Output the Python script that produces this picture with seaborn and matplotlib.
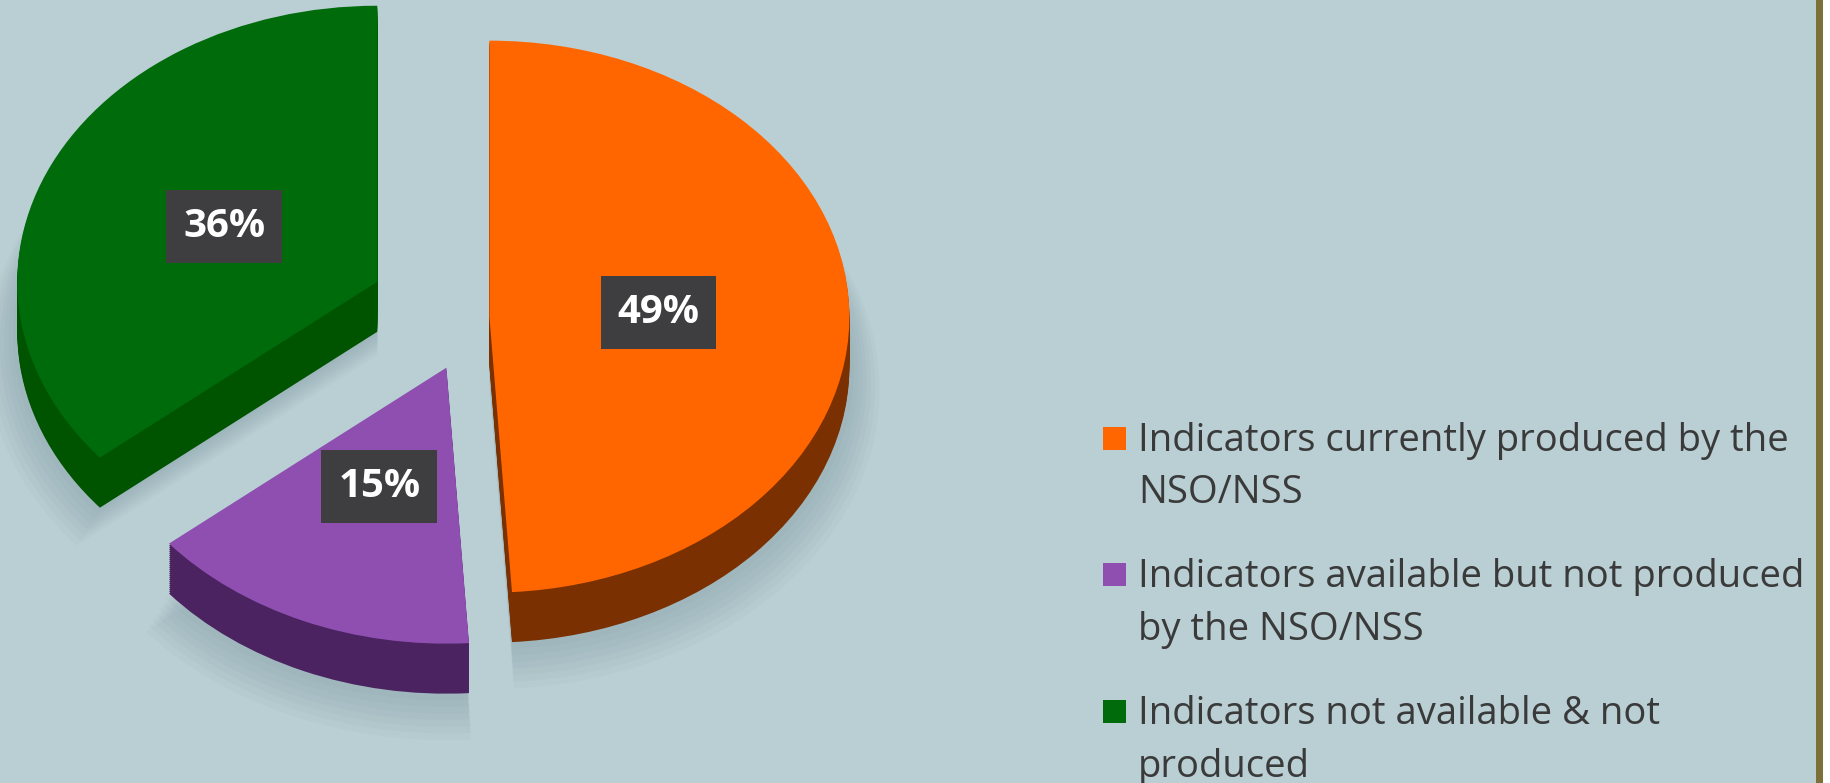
import numpy as np
import matplotlib
matplotlib.use('Agg')
import matplotlib.pyplot as plt
from matplotlib.patches import Rectangle
import seaborn as sns

# data
legend_lines = [['Indicators currently produced by the', 'NSO/NSS'],
                ['Indicators available but not produced', 'by the NSO/NSS'],
                ['Indicators not available & not', 'produced']]
shares = [49, 15, 36]
explode = [0.04, 0.20, 0.30]
top_colors = ['#ff6600', '#8e4fb0', '#006b0a']
side_colors = ['#7a3000', '#4b2360', '#005400']

sns.set_theme(style='white')
plt.rcParams['font.family'] = ['Open Sans', 'DejaVu Sans']

W, H = 1831, 783
bg = '#b9cfd4'
fig = plt.figure(figsize=(W / 100, H / 100), dpi=100)
fig.patch.set_facecolor(bg)
ax = fig.add_axes([0, 0, 1, 1])
ax.set_facecolor(bg)

# pie centre and radii in pixels, the unit pie gets squashed vertically
cx, cy, rx, ry = 475, 317, 360, 276
depth = 50 / ry

# soft shadow under the pie
for k in range(8):
    ax.pie(shares, explode=explode, colors=['#506a74'] * 3, startangle=90,
           counterclock=False, center=(0, -depth - 0.012 * k), radius=1 + 0.012 * k,
           wedgeprops=dict(linewidth=0, alpha=0.035))

# extrusion: stack of darker pies below the top face
for d in np.linspace(depth, 0, 26)[:-1]:
    ax.pie(shares, explode=explode, colors=side_colors, startangle=90,
           counterclock=False, center=(0, -d), wedgeprops=dict(linewidth=0))

wedges, texts, autotexts = ax.pie(
    shares, explode=explode, colors=top_colors, startangle=90, counterclock=False,
    autopct='%d%%', pctdistance=0.47, wedgeprops=dict(linewidth=0),
    textprops=dict(color='white', fontsize=29, fontweight='bold'))
for t in autotexts:
    t.set_bbox(dict(boxstyle='square,pad=0.42', facecolor='#3e3e40', edgecolor='none'))

ax.set_xlim(-cx / rx, (W - cx) / rx)
ax.set_ylim(-(H - cy) / ry, cy / ry)
ax.set_aspect('auto')
ax.axis('off')

# legend, drawn by hand so the marker sits on the first line
baselines = [(451, 503), (587, 640), (724, 777)]
for lines, col, ys in zip(legend_lines, top_colors, baselines):
    fig.patches.append(Rectangle((1103 / W, 1 - (ys[0] - 1) / H), 23 / W, 23 / H,
                                 transform=fig.transFigure, facecolor=col,
                                 edgecolor='none'))
    for line, y in zip(lines, ys):
        fig.text(1138 / W, 1 - y / H, line, fontsize=27.5, color='#3a3a3a',
                 va='baseline', ha='left')

# olive frame edge on the right
fig.patches.append(Rectangle((1816 / W, 0), 7 / W, 1, transform=fig.transFigure,
                             facecolor='#7a7038', edgecolor='none'))
fig.patches.append(Rectangle((1823 / W, 0), 8 / W, 1, transform=fig.transFigure,
                             facecolor='white', edgecolor='none'))

fig.savefig('out.png', dpi=100, facecolor=bg)
